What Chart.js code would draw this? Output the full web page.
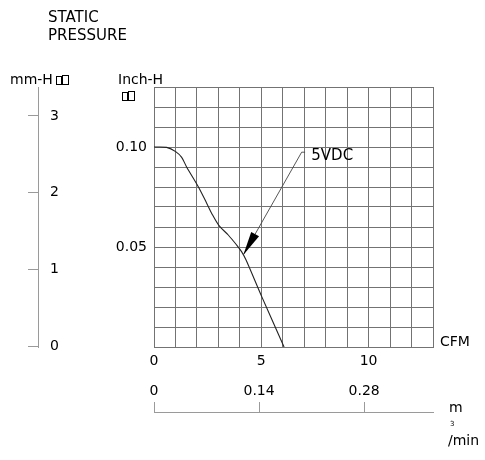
<!DOCTYPE html>
<html>
<head>
<meta charset="utf-8">
<script src="https://cdn.jsdelivr.net/npm/chart.js@4/dist/chart.umd.min.js"></script>
<style>
  body { margin: 0; background: #fff; }
  canvas { display: block; }
</style>
</head>
<body>
<canvas id="fanChart" width="485" height="460"></canvas>
<script>
  // curva de pressão estática (CFM x Inch-H2O)
  const flowCfm = [0, 0.59, 1.01, 1.29, 1.52, 2.07, 2.46, 2.69, 3.03, 3.46, 3.85, 4.08, 4.29, 5.02, 6.06];
  const pressureInch = [0.100, 0.0998, 0.0977, 0.0948, 0.090, 0.080, 0.0718, 0.0668, 0.0607, 0.056, 0.051, 0.0477, 0.0435, 0.0252, 0];

  // rótulos dos eixos
  const cfmLabels = [0, 5, 10];
  const inchLabels = [0.05, 0.10];
  const mmTicks = [0, 1, 2, 3];
  const m3Ticks = [0, 0.14, 0.28];

  const seriesName = '5VDC';

  const FONT = '"DejaVu Sans", sans-serif';
  const GRID = '#737373';
  const AXIS = '#9a9a9a';

  // ponto da seta e posição do texto (em unidades de dados)
  const arrowTip = { x: 4.16, y: 0.046 };
  const leaderTop = { x: 6.88, y: 0.0974 };
  const leaderEnd = { x: 7.04, y: 0.0974 };
  const labelPos = { x: 7.33, y: 0.0952 };

  const has = (arr, v) => arr.some(a => Math.abs(a - v) < 1e-6);

  const extraText = {
    id: 'extraText',
    afterDraw(chart) {
      const ctx = chart.ctx;
      const sx = chart.scales.x, sy = chart.scales.y;
      ctx.save();
      ctx.fillStyle = '#000';
      ctx.textBaseline = 'middle';
      ctx.textAlign = 'left';

      ctx.font = '15px ' + FONT;
      ctx.fillText('STATIC', 48, 18);
      ctx.fillText('PRESSURE', 48, 36);

      ctx.font = '14px ' + FONT;
      ctx.fillText('mm-H', 10, 80);
      ctx.fillText('Inch-H', 118, 80);
      ctx.fillText('CFM', 440, 342);
      ctx.fillText('m', 449, 408);
      ctx.fillText('/min', 448, 441);
      ctx.font = '7px ' + FONT;
      ctx.fillText('3', 450, 424);

      // caracteres ausentes (H2O)
      ctx.strokeStyle = '#000';
      ctx.lineWidth = 1;
      [[56, 76], [62, 75], [122, 92], [128, 91]].forEach(([x, y], i) => {
        const w = i % 2 ? 6 : 5;
        const h = i % 2 ? 9 : 8;
        ctx.strokeRect(x + 0.5, y + 0.5, w, h);
      });

      // seta e texto da curva
      const tx = sx.getPixelForValue(arrowTip.x), ty = sy.getPixelForValue(arrowTip.y);
      const lx = sx.getPixelForValue(leaderTop.x), ly = sy.getPixelForValue(leaderTop.y);
      const ex = sx.getPixelForValue(leaderEnd.x), ey = sy.getPixelForValue(leaderEnd.y);
      ctx.strokeStyle = '#444';
      ctx.lineWidth = 0.9;
      ctx.beginPath();
      ctx.moveTo(tx, ty);
      ctx.lineTo(lx, ly);
      ctx.lineTo(ex, ey);
      ctx.stroke();

      const ang = Math.atan2(ly - ty, lx - tx);
      const len = 24, half = 4.5;
      const bx = tx + Math.cos(ang) * len, by = ty + Math.sin(ang) * len;
      ctx.fillStyle = '#000';
      ctx.beginPath();
      ctx.moveTo(tx, ty);
      ctx.lineTo(bx - Math.sin(ang) * half, by + Math.cos(ang) * half);
      ctx.lineTo(bx + Math.sin(ang) * half, by - Math.cos(ang) * half);
      ctx.closePath();
      ctx.fill();

      ctx.font = '15px ' + FONT;
      ctx.fillText(seriesName, sx.getPixelForValue(labelPos.x), sy.getPixelForValue(labelPos.y));
      ctx.restore();
    }
  };

  new Chart(document.getElementById('fanChart'), {
    type: 'line',
    data: {
      datasets: [{
        label: seriesName,
        data: flowCfm.map((x, i) => ({ x, y: pressureInch[i] })),
        borderColor: '#222',
        borderWidth: 1.1,
        pointRadius: 0,
        fill: false,
        tension: 0.3
      }]
    },
    options: {
      responsive: false,
      animation: false,
      devicePixelRatio: 1,
      layout: { padding: { top: 87, right: 52, left: 0, bottom: 0 } },
      plugins: { legend: { display: false }, tooltip: { enabled: false } },
      scales: {
        x: {
          type: 'linear', position: 'bottom', weight: 0,
          min: 0, max: 13,
          grid: { color: GRID, drawTicks: false },
          border: { color: GRID },
          ticks: {
            stepSize: 1, autoSkip: false, maxRotation: 0, padding: 6,
            color: '#000', font: { family: FONT, size: 14 },
            callback: v => has(cfmLabels, v) ? String(v) : ''
          },
          afterFit: s => { s.height = 65; }
        },
        m3: {
          type: 'linear', position: 'bottom', weight: 10,
          min: 0, max: 0.3718,
          afterBuildTicks: s => { s.ticks = m3Ticks.map(v => ({ value: v })); },
          grid: { color: AXIS, drawOnChartArea: false, drawTicks: true, tickLength: -10 },
          border: { color: AXIS },
          ticks: {
            mirror: true, padding: 12, autoSkip: false, maxRotation: 0,
            color: '#000', font: { family: FONT, size: 14 },
            callback: v => String(v)
          },
          afterFit: s => { s.height = 48; }
        },
        y: {
          type: 'linear', position: 'left', weight: 0,
          min: 0, max: 0.13,
          grid: { color: GRID, drawTicks: false },
          border: { color: GRID },
          ticks: {
            stepSize: 0.01, autoSkip: false, padding: 7,
            color: '#000', font: { family: FONT, size: 14 },
            callback: v => has(inchLabels, v) ? v.toFixed(2) : ''
          },
          afterFit: s => { s.width = 116; }
        },
        mm: {
          type: 'linear', position: 'left', weight: 10,
          min: -0.013, max: 3.378,
          afterBuildTicks: s => { s.ticks = mmTicks.map(v => ({ value: v })); },
          grid: { color: AXIS, drawOnChartArea: false, drawTicks: true, tickLength: 10 },
          border: { color: AXIS },
          ticks: {
            mirror: true, padding: 12, autoSkip: false,
            color: '#000', font: { family: FONT, size: 14 },
            callback: v => String(v)
          },
          afterFit: s => { s.width = 38; }
        }
      }
    },
    plugins: [extraText]
  });
</script>
</body>
</html>
